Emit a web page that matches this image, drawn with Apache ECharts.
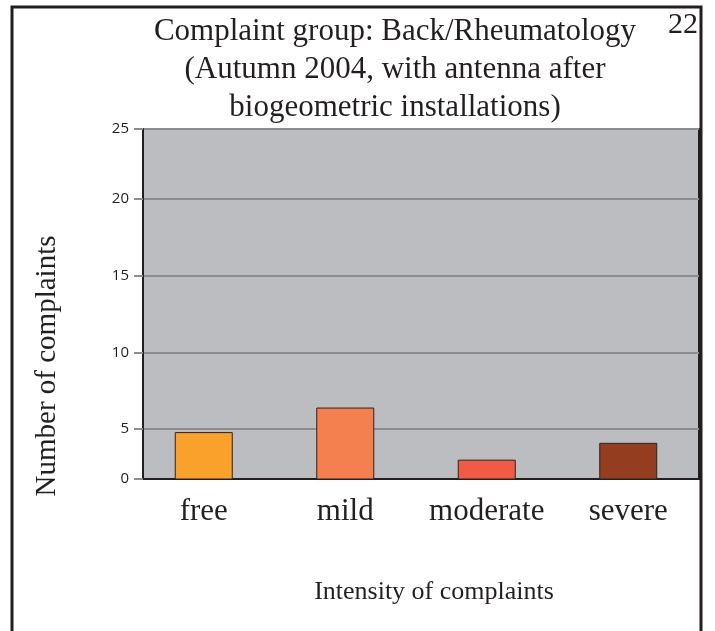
<!DOCTYPE html>
<html>
<head>
<meta charset="utf-8">
<script src="https://cdn.jsdelivr.net/npm/echarts@6/dist/echarts.min.js"></script>
<style>
  html, body { margin: 0; padding: 0; background: #fff; }
  #chart { width: 715px; height: 631px; }
</style>
</head>
<body>
<div id="chart"></div>
<script>
// categories and values
const categories = ['free', 'mild', 'moderate', 'severe'];
const complaints = [4.8, 6.4, 3.0, 4.1];
const barColors = ['#f9a12a', '#f47f4f', '#f15a45', '#953d1f'];

// the original axis is stretched at both ends: the printed 0 and 25 sit on the frame
const yTickValues = [1.74, 5, 10, 15, 20, 24.57];
const yTickLabels = ['0', '5', '10', '15', '20', '25'];

const chart = echarts.init(document.getElementById('chart'));

const serif = '"Liberation Serif", "DejaVu Serif", serif';
const yMin = 1.74, yMax = 24.57;

chart.setOption({
    backgroundColor: '#ffffff',
    animation: false,
    title: [
        {
            text: 'Complaint group: Back/Rheumatology\n(Autumn 2004, with antenna after\nbiogeometric installations)',
            left: 390,
            top: 8,
            textAlign: 'center',
            textStyle: { fontFamily: serif, fontSize: 31, fontWeight: 'normal', color: '#231f20', lineHeight: 38 }
        },
        {
            text: '22',
            right: 12,
            top: 5,
            textStyle: { fontFamily: serif, fontSize: 30, fontWeight: 'normal', color: '#231f20' }
        }
    ],
    graphic: [
        {
            type: 'rect',
            shape: { x: 12, y: 7, width: 689, height: 700 },
            style: { fill: 'none', stroke: '#231f20', lineWidth: 3 },
            z: 100
        },
        {
            type: 'text',
            x: 47,
            y: 366,
            rotation: Math.PI / 2,
            style: {
                text: 'Number of complaints',
                font: '29px ' + serif,
                fill: '#231f20',
                align: 'center',
                verticalAlign: 'middle'
            }
        }
    ],
    grid: [
        {
            // the grey plot box with its frame and grid lines
            left: 143,
            right: 16,
            top: 129,
            bottom: 152,
            show: true,
            backgroundColor: '#bcbdc0',
            borderColor: '#231f20',
            borderWidth: 2
        },
        {
            // the bars sit a little left of an even spread in the original
            left: 133,
            right: 16,
            top: 129,
            bottom: 152
        }
    ],
    xAxis: [
        {
            gridIndex: 0,
            type: 'category',
            data: categories,
            name: 'Intensity of complaints',
            nameLocation: 'middle',
            nameGap: 100,
            nameTextStyle: { fontFamily: serif, fontSize: 26, color: '#231f20', padding: [0, 0, 0, 26] },
            axisLine: { lineStyle: { color: '#231f20', width: 2 } },
            axisTick: { show: false },
            axisLabel: { show: false },
            splitLine: { show: false }
        },
        {
            gridIndex: 1,
            type: 'category',
            data: categories,
            axisLine: { show: false },
            axisTick: { show: false },
            axisLabel: { interval: 0, fontFamily: serif, fontSize: 31, color: '#231f20', margin: 17 },
            splitLine: { show: false }
        }
    ],
    yAxis: [
        {
            gridIndex: 0,
            type: 'value',
            min: yMin,
            max: yMax,
            axisLine: { show: true, lineStyle: { color: '#231f20', width: 2 } },
            axisTick: {
                show: true,
                length: 9,
                customValues: yTickValues,
                lineStyle: { color: '#8c8d90', width: 2 }
            },
            axisLabel: {
                customValues: yTickValues,
                margin: 14,
                fontFamily: '"Open Sans", "Noto Sans", sans-serif',
                fontSize: 15,
                color: '#231f20',
                formatter: function (v) {
                    const i = yTickValues.indexOf(v);
                    return i >= 0 ? yTickLabels[i] : '';
                }
            },
            splitLine: { show: true, lineStyle: { color: '#8c8d90', width: 2 } }
        },
        {
            gridIndex: 1,
            type: 'value',
            min: yMin,
            max: yMax,
            show: false
        }
    ],
    series: [
        {
            type: 'bar',
            xAxisIndex: 1,
            yAxisIndex: 1,
            data: complaints.map((v, i) => ({ value: v, itemStyle: { color: barColors[i] } })),
            barWidth: 58,
            itemStyle: { borderColor: '#2e221c', borderWidth: 1 }
        }
    ]
});
</script>
</body>
</html>
